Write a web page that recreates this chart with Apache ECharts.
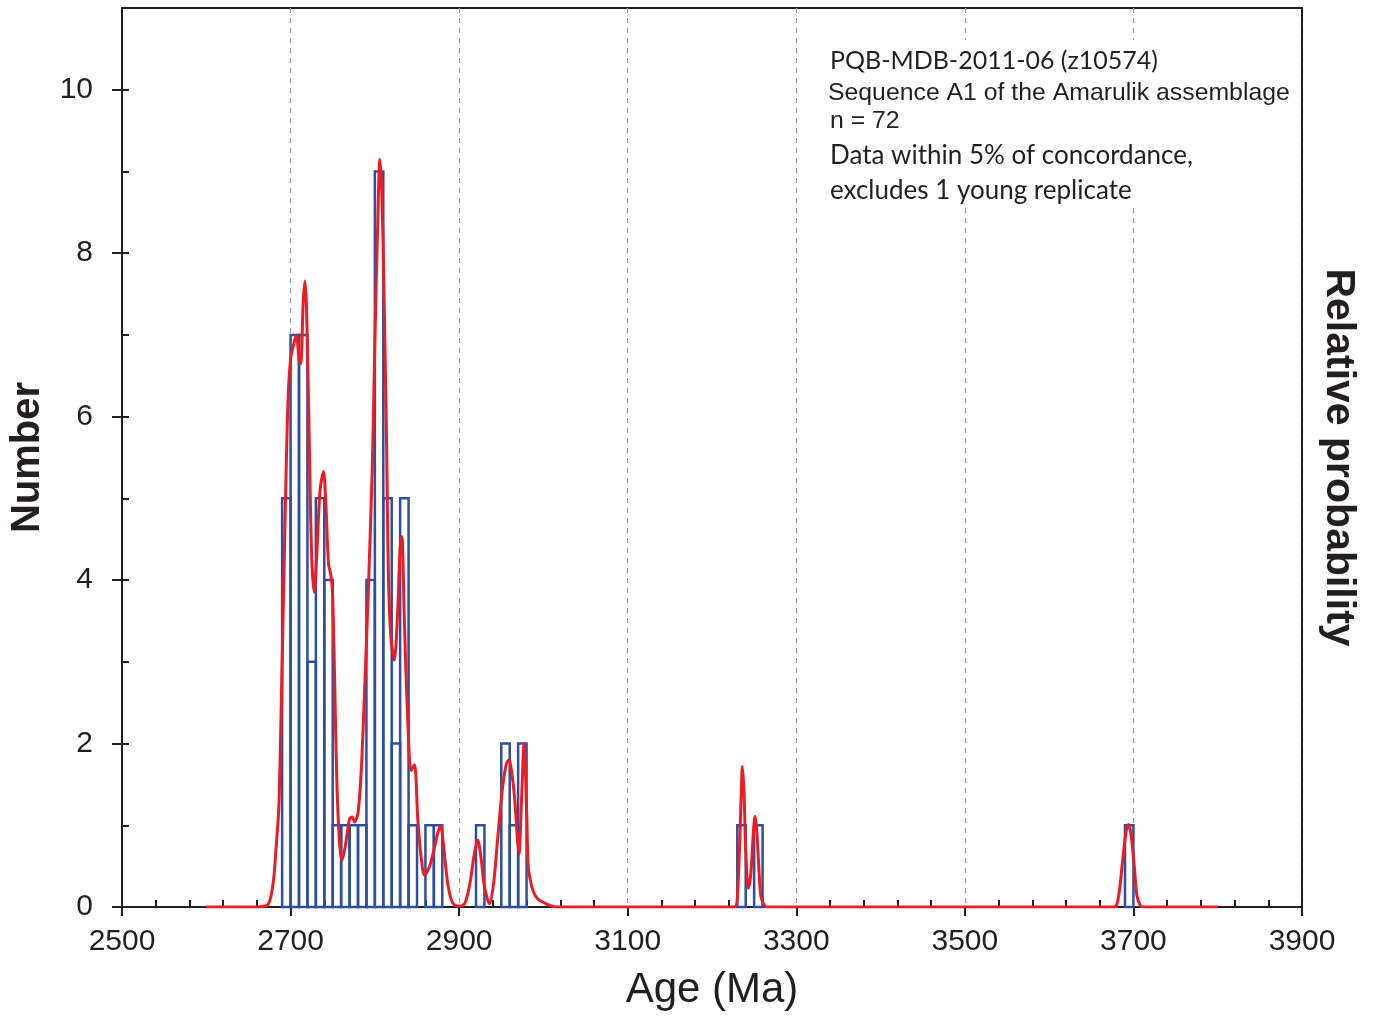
<!DOCTYPE html>
<html>
<head>
<meta charset="utf-8">
<script src="https://cdn.jsdelivr.net/npm/echarts@6/dist/echarts.min.js"></script>
<style>
  html, body { margin: 0; padding: 0; background: #fff; }
  #chart { width: 1377px; height: 1017px; }
</style>
</head>
<body>
<div id="chart"></div>
<script>
// Histogram bins: left edge of each 10 Ma bin and the number of ages in it
const binWidth = 10;
const binLeft = [2690, 2700, 2710, 2720, 2730, 2740, 2750, 2760, 2770, 2780,
                 2790, 2800, 2810, 2820, 2830, 2840, 2860, 2870,
                 2920, 2950, 2960, 2970, 3230, 3250, 3690];
const binCount = [5, 7, 7, 3, 5, 4, 1, 1, 1, 1,
                  4, 9, 5, 2, 5, 1, 1, 1,
                  1, 2, 1, 2, 1, 1, 1];

// Relative probability curve, scaled to the Number axis: age (Ma) and height
const probAge = [
  2600, 2660, 2672, 2676, 2680, 2683, 2686, 2688, 2690, 2692, 2694, 2697, 2700, 2704, 2707, 2710, 2712, 2715, 2717, 2719,
  2722, 2725, 2728, 2731, 2735, 2739, 2742, 2745, 2748, 2750, 2753, 2755, 2758, 2761, 2765, 2770, 2773, 2776, 2780, 2784,
  2788, 2792, 2797, 2800, 2803, 2806, 2808, 2810, 2814, 2816, 2819, 2823, 2827, 2830, 2832, 2835, 2839, 2843, 2847, 2851,
  2855, 2859, 2865, 2871, 2875, 2878, 2881, 2884, 2887, 2891, 2895, 2901, 2907, 2913, 2918, 2922, 2926, 2930, 2936, 2941,
  2945, 2948, 2952, 2956, 2959, 2963, 2966, 2969, 2971, 2974, 2977, 2980, 2982, 2985, 2988, 2993, 3001, 3015,
  3225, 3229, 3231, 3233, 3235, 3236, 3238, 3240, 3243, 3246, 3249, 3251, 3253, 3256, 3258, 3262, 3265,
  3675, 3680, 3684, 3687, 3691, 3694, 3697, 3701, 3704, 3708, 3712, 3800
];
const probValue = [
  0, 0, 0.02, 0.1, 0.35, 0.75, 1.2, 2.0, 3.0, 4.0, 5.0, 6.2, 6.7, 6.9, 7.0, 6.7, 6.65, 7.4, 7.66, 7.3,
  5.8, 4.3, 3.85, 4.3, 5.1, 5.33, 4.9, 4.2, 4.05, 3.8, 2.4, 1.5, 0.8, 0.57, 0.75, 1.08, 1.1, 1.04, 1.15, 1.7,
  2.7, 3.8, 5.4, 6.9, 8.2, 9.15, 8.8, 8.0, 5.6, 4.1, 3.3, 3.02, 3.6, 4.4, 4.53, 3.5, 2.3, 1.67, 1.74, 1.06,
  0.6, 0.39, 0.5, 0.74, 0.92, 0.99, 0.8, 0.5, 0.25, 0.08, 0.02, 0.01, 0.05, 0.3, 0.65, 0.82, 0.6, 0.25, 0.04, 0.3,
  0.75, 1.1, 1.5, 1.75, 1.8, 1.6, 1.31, 0.85, 0.65, 1.3, 2.0, 1.2, 0.49, 0.3, 0.19, 0.1, 0.05, 0,
  0, 0.02, 0.3, 0.82, 1.5, 1.72, 1.4, 0.7, 0.23, 0.4, 0.9, 1.11, 0.95, 0.4, 0.13, 0.02, 0,
  0, 0.02, 0.25, 0.55, 0.9, 1.01, 0.9, 0.5, 0.15, 0.02, 0, 0
];

// Axis ticks
const ageTicks = [2500, 2700, 2900, 3100, 3300, 3500, 3700, 3900];
const numberTicks = [0, 2, 4, 6, 8, 10];
const numberMinorTicks = [1, 2, 3, 4, 5, 6, 7, 8, 9, 10];

// Sample notes
const noteLines = [
  { text: 'PQB-MDB-2011-06 (z10574)', font: 'Lato', size: 25 },
  { text: 'Sequence A1 of the Amarulik assemblage', font: "'Liberation Sans'", size: 24.8 },
  { text: 'n = 72', font: "'Liberation Sans'", size: 24.8 },
  { text: 'Data within 5% of concordance,', font: 'Lato', size: 26 },
  { text: 'excludes 1 young replicate', font: 'Lato', size: 26 }
];
const noteY = [63, 95, 123, 158, 193];
const noteX = [830, 828, 830, 830, 830];

const AX = '#231f20';
const ARIAL = "'Liberation Sans', Arial, sans-serif";

const chart = echarts.init(document.getElementById('chart'), null, { renderer: 'canvas' });

const histData = binLeft.map((x, i) => [x, binCount[i]]);
const probData = probAge.map((x, i) => [x, probValue[i]]);

const option = {
  animation: false,
  backgroundColor: '#fff',
  grid: {
    left: 120, right: 75, top: 8, bottom: 110,
    show: true, borderColor: AX, borderWidth: 2, backgroundColor: 'transparent'
  },
  xAxis: [
    {
      type: 'value', position: 'bottom',
      min: 2500, max: 3900, interval: 200,
      name: 'Age (Ma)', nameLocation: 'middle', nameGap: 62,
      nameTextStyle: { fontFamily: ARIAL, fontSize: 42, color: AX },
      axisLine: { show: true, onZero: false, lineStyle: { color: AX, width: 2 } },
      axisTick: { show: true, inside: false, length: 9, lineStyle: { color: AX, width: 2 },
                  customValues: ageTicks },
      axisLabel: { show: true, margin: 20, fontFamily: ARIAL, fontSize: 30, color: AX,
                   customValues: ageTicks, formatter: v => String(v) },
      splitLine: { show: true, lineStyle: { color: '#9a9a9a', type: [5, 5], width: 1.2 } },
      minorTick: { show: false }
    },
    {
      type: 'value', position: 'bottom', offset: 0,
      min: 2500, max: 3900, interval: 200,
      axisLine: { show: false },
      axisTick: { show: false, inside: true },
      axisLabel: { show: false },
      splitLine: { show: false },
      minorTick: { show: true, splitNumber: 5, length: 7, lineStyle: { color: AX, width: 2 } },
      minorSplitLine: { show: false }
    }
  ],
  yAxis: [
    {
      type: 'value', position: 'left',
      min: 0, max: 11,
      name: 'Number', nameLocation: 'middle', nameGap: 74, nameRotate: 90,
      nameTextStyle: { fontFamily: ARIAL, fontSize: 40, fontWeight: 'bold', color: AX },
      axisLine: { show: true, onZero: false, lineStyle: { color: AX, width: 2 } },
      axisTick: { show: true, inside: false, length: 10, lineStyle: { color: AX, width: 2 },
                  customValues: numberTicks },
      axisLabel: { show: true, margin: 29, fontFamily: ARIAL, fontSize: 30, color: AX,
                   customValues: numberTicks, formatter: v => String(v) },
      splitLine: { show: false }
    },
    {
      type: 'value', position: 'left', offset: 0,
      min: 0, max: 11,
      axisLine: { show: false },
      axisTick: { show: true, inside: true, length: 7, lineStyle: { color: AX, width: 2 },
                  customValues: numberMinorTicks },
      axisLabel: { show: false },
      splitLine: { show: false }
    },
    {
      type: 'value', position: 'right',
      min: 0, max: 11,
      name: 'Relative probability', nameLocation: 'middle', nameGap: 16, nameRotate: -90,
      nameTextStyle: { fontFamily: ARIAL, fontSize: 41, fontWeight: 'bold', color: AX },
      axisLine: { show: true, onZero: false, lineStyle: { color: AX, width: 2 } },
      axisTick: { show: false },
      axisLabel: { show: false },
      splitLine: { show: false }
    }
  ],
  series: [
    {
      name: 'Number',
      type: 'custom',
      xAxisIndex: 0, yAxisIndex: 0,
      data: histData,
      encode: { x: 0, y: 1 },
      z: 2,
      renderItem: function (params, api) {
        const x0 = api.value(0);
        const n = api.value(1);
        const topLeft = api.coord([x0, n]);
        const bottomRight = api.coord([x0 + binWidth, 0]);
        return {
          type: 'rect',
          shape: {
            x: topLeft[0], y: topLeft[1],
            width: bottomRight[0] - topLeft[0],
            height: bottomRight[1] - topLeft[1]
          },
          style: { fill: 'none', stroke: '#2c4fa3', lineWidth: 2.5 }
        };
      }
    },
    {
      name: 'Relative probability',
      type: 'line',
      xAxisIndex: 0, yAxisIndex: 0,
      data: probData,
      showSymbol: false,
      smooth: 0.3,
      z: 3,
      lineStyle: { color: '#ec1c24', width: 3 }
    }
  ],
  graphic: [
    // white panel behind the sample notes, covering the dashed grid lines
    {
      type: 'rect',
      left: 818, top: 40, z: 50,
      shape: { width: 478, height: 167 },
      style: { fill: '#fff' }
    }
  ].concat(noteLines.map((line, i) => ({
    type: 'text',
    left: noteX[i],
    top: noteY[i] - line.size * 0.58,
    z: 51,
    style: {
      text: line.text,
      fontFamily: line.font,
      fontSize: line.size,
      fill: AX
    }
  })))
};

chart.setOption(option);
</script>
</body>
</html>
